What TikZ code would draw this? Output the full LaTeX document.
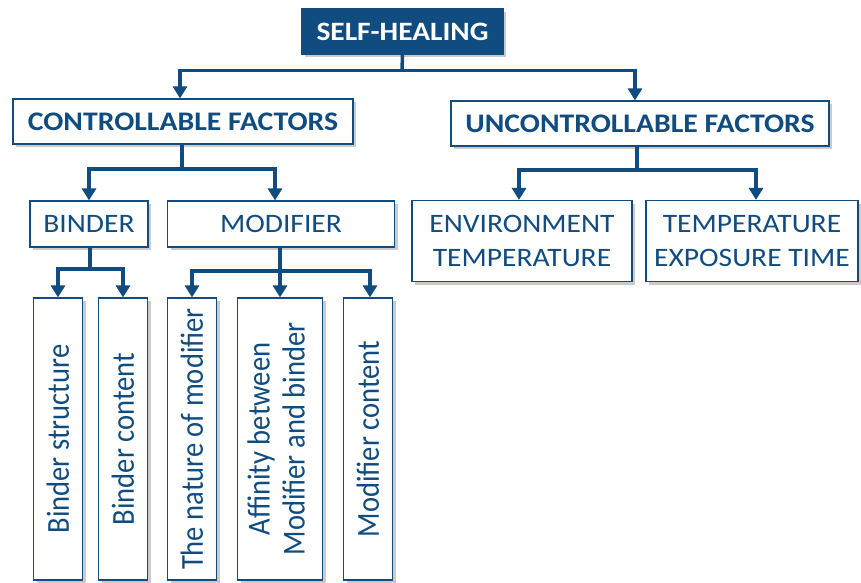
\documentclass[tikz,border=0pt]{standalone}
\usepackage{fontspec}
\setmainfont{Carlito}
% wide face for horizontal labels, narrow face for the upright ones
\newfontfamily\widefont{Carlito}[FakeStretch=1.11]
\newfontfamily\slimfont{Carlito}[FakeStretch=0.893]
\usetikzlibrary{arrows.meta,shadows}
\definecolor{navy}{RGB}{16,76,128}
\definecolor{shade}{RGB}{140,140,140}
\begin{document}
\begin{tikzpicture}[x=1pt,y=-1pt,
  box/.style={draw=navy, line width=1.2pt, fill=white, text=navy, inner sep=0pt, align=center,
     drop shadow={shadow xshift=3pt, shadow yshift=-3pt, fill=shade, opacity=0.45}},
  head/.style={box, font=\widefont\bfseries\fontsize{26.8}{30}\selectfont},
  item/.style={box, font=\widefont\fontsize{26.6}{33.5}\selectfont},
  tall/.style={box, font=\slimfont\fontsize{32}{35}\selectfont, minimum width=49pt, minimum height=282pt},
  bus/.style={draw=navy, line width=3.5pt},
  arr/.style={bus, -{Triangle[width=14pt,length=12pt]}},
]
\useasboundingbox (0,0) rectangle (861,582);

% root
\node[box, fill=navy, text=white, font=\widefont\bfseries\fontsize{26.5}{30}\selectfont,
      minimum width=201pt, minimum height=45pt] (root) at (402.5,31.5) {SELF-HEALING};

% second level
\node[head, minimum width=340pt, minimum height=45pt] (ctrl) at (183,121.5) {CONTROLLABLE FACTORS};
\node[head, minimum width=378pt, minimum height=45pt] (unctrl) at (640,123.5) {UNCONTROLLABLE FACTORS};

% third level
\node[item, minimum width=118pt, minimum height=46pt] (binder) at (89,224) {BINDER};
\node[item, minimum width=227pt, minimum height=46pt] (modifier) at (281,224) {MODIFIER};
\node[item, minimum width=220pt, minimum height=81pt] (env) at (522,241) {ENVIRONMENT\\TEMPERATURE};
\node[item, minimum width=212pt, minimum height=81pt] (expo) at (752,241) {TEMPERATURE\\EXPOSURE TIME};

% upright leaves
\node[tall] (bstruct) at (58,439) {\rotatebox{90}{Binder structure}};
\node[tall] (bcont) at (123,439) {\rotatebox{90}{Binder content}};
\node[tall] (nature) at (192,439) {\rotatebox{90}{The nature of modifier}};
\node[tall, minimum width=85pt] (affin) at (280,439)
  {\rotatebox{90}{\begin{tabular}{@{}c@{}}Affinity between\\Modifier and binder\end{tabular}}};
\node[tall] (mcont) at (368,439) {\rotatebox{90}{Modifier content}};

% connectors
\coordinate (j0) at (402,70.5);
\draw[bus] (root.south) -- (j0);
\draw[arr] (j0) -| ([xshift=-3pt]ctrl.north);
\draw[arr] (j0) -| ([xshift=-5pt]unctrl.north);

\coordinate (j1) at (182,169);
\draw[bus] (ctrl.south -| j1) -- (j1);
\draw[arr] (j1) -| (binder.north);
\draw[arr] (j1) -| ([xshift=-6pt]modifier.north);

\coordinate (j2) at (637,170);
\draw[bus] (unctrl.south -| j2) -- (j2);
\draw[arr] (j2) -| ([xshift=-3pt]env.north);
\draw[arr] (j2) -| ([xshift=4pt]expo.north);

\coordinate (j3) at (90,269);
\draw[bus] (binder.south -| j3) -- (j3);
\draw[arr] (j3) -| (bstruct.north);
\draw[arr] (j3) -| (bcont.north);

\coordinate (j4) at (280,271);
\draw[bus] (modifier.south -| j4) -- (j4);
\draw[arr] (j4) -| (nature.north);
\draw[arr] (j4) -- (affin.north);
\draw[arr] (j4) -| ([xshift=2pt]mcont.north);
\end{tikzpicture}
\end{document}
